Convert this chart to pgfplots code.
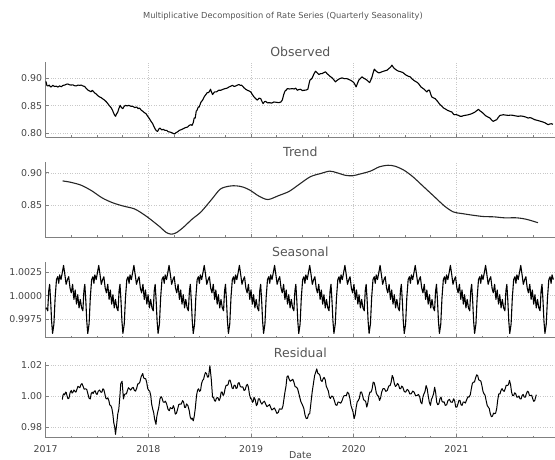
\documentclass[border=0pt]{standalone}
\usepackage{pgfplots}
\pgfplotsset{compat=1.18}
\usepackage{fontspec}
\setmainfont{DejaVu Sans}
\definecolor{spinec}{HTML}{808080}
\definecolor{gridc}{HTML}{C8C8C8}
\definecolor{tickc}{HTML}{444444}
\definecolor{titc}{HTML}{555555}
\pgfplotsset{
  every axis title shift=0pt,
  dec/.style={
    scale only axis, width=509.3pt, height=75.8pt, anchor=south west,
    xmin=2017, xmax=2021.96,
    axis x line=bottom, axis y line=left,
    axis line style={-, draw=spinec, line width=1.1pt},
    xtick={2017,2018,2019,2020,2021},
    minor xtick={2017.25,2017.5,2017.75,2018.25,2018.5,2018.75,2019.25,2019.5,2019.75,2020.25,2020.5,2020.75,2021.25,2021.5,2021.75},
    xticklabels={},
    tick align=inside,
    major tick length=3.5pt, minor tick length=2.2pt,
    tick style={draw=spinec, line width=0.6pt},
    grid=major,
    major grid style={dotted, draw=gridc, line width=0.5pt},
    scaled y ticks=false,
    tick label style={font=\fontsize{9.4}{11}\selectfont, text=tickc},
    xticklabel style={yshift=-4pt},
    title style={at={(0.5,1)}, anchor=base, yshift=5pt, font=\fontsize{12.5}{14}\selectfont, text=titc},
    every axis plot/.append style={line join=round},
  }
}
\begin{document}
\begin{tikzpicture}
\path[use as bounding box, clip] (0,0) rectangle (555pt,459pt);
\node[anchor=base, font=\fontsize{8.3}{10}\selectfont, text=titc] at (283pt,440pt) {Multiplicative Decomposition of Rate Series (Quarterly Seasonality)};

% Observed
\begin{axis}[dec, at={(45.7pt,321.5pt)}, ymin=0.7927, ymax=0.9291,
  ytick={0.80,0.85,0.90}, yticklabels={0.80,0.85,0.90}, title={Observed}]
\addplot[black, line width=1.1pt] coordinates {
(2017.000,0.894)(2017.006,0.891)(2017.012,0.886)(2017.023,0.8855)(2017.035,0.887)(2017.045,0.884)(2017.055,0.884)(2017.070,0.8865)(2017.085,0.8845)(2017.104,0.885)
(2017.120,0.8835)(2017.135,0.8855)(2017.152,0.884)(2017.168,0.8865)(2017.184,0.887)(2017.200,0.8885)(2017.217,0.889)(2017.232,0.8875)(2017.249,0.887)(2017.265,0.8875)
(2017.280,0.886)(2017.298,0.8855)(2017.315,0.887)(2017.330,0.8865)(2017.346,0.887)(2017.362,0.8855)(2017.379,0.8845)(2017.395,0.881)(2017.411,0.878)(2017.427,0.8765)
(2017.443,0.875)(2017.452,0.8775)(2017.460,0.8765)(2017.476,0.873)(2017.492,0.871)(2017.508,0.868)(2017.524,0.8657)(2017.540,0.8645)(2017.557,0.862)(2017.573,0.860)
(2017.590,0.857)(2017.605,0.8536)(2017.620,0.850)(2017.638,0.846)(2017.650,0.842)(2017.660,0.8374)(2017.670,0.8335)(2017.680,0.8308)(2017.690,0.835)(2017.702,0.8386)
(2017.712,0.8445)(2017.725,0.8506)(2017.738,0.8465)(2017.751,0.8446)(2017.763,0.8485)(2017.777,0.8506)(2017.793,0.8495)(2017.809,0.8506)(2017.828,0.849)(2017.848,0.8488)
(2017.868,0.8465)(2017.887,0.8476)(2017.900,0.8445)(2017.913,0.8458)(2017.930,0.842)(2017.945,0.840)(2017.960,0.8375)(2017.977,0.8356)(2017.993,0.831)(2018.010,0.8266)
(2018.025,0.822)(2018.042,0.8175)(2018.055,0.812)(2018.068,0.8073)(2018.080,0.8045)(2018.090,0.8037)(2018.100,0.8075)(2018.113,0.8097)(2018.130,0.8065)(2018.146,0.8073)
(2018.162,0.8055)(2018.178,0.8055)(2018.194,0.803)(2018.210,0.8025)(2018.226,0.8015)(2018.243,0.800)(2018.256,0.799)(2018.269,0.8013)(2018.285,0.803)(2018.301,0.8055)
(2018.320,0.8068)(2018.340,0.8085)(2018.360,0.8105)(2018.382,0.8115)(2018.398,0.8145)(2018.414,0.8157)(2018.425,0.8145)(2018.437,0.8193)(2018.446,0.8278)(2018.456,0.8278)
(2018.466,0.840)(2018.476,0.8425)(2018.485,0.8476)(2018.495,0.8476)(2018.511,0.856)(2018.528,0.860)(2018.544,0.866)(2018.560,0.870)(2018.573,0.8735)(2018.586,0.8735)
(2018.596,0.876)(2018.605,0.8795)(2018.615,0.8745)(2018.625,0.870)(2018.644,0.8747)(2018.663,0.8747)(2018.685,0.8777)(2018.706,0.8777)(2018.727,0.8795)(2018.748,0.8807)
(2018.767,0.8815)(2018.786,0.8837)(2018.802,0.8850)(2018.819,0.8867)(2018.835,0.8845)(2018.851,0.8855)(2018.867,0.8870)(2018.883,0.888)(2018.896,0.8865)(2018.909,0.8867)
(2018.920,0.8845)(2018.932,0.882)(2018.948,0.8795)(2018.964,0.8777)(2018.980,0.8765)(2018.997,0.8747)(2019.013,0.8700)(2019.029,0.8657)(2019.045,0.8625)(2019.061,0.860)
(2019.078,0.8635)(2019.094,0.8627)(2019.105,0.858)(2019.117,0.8536)(2019.130,0.8570)(2019.142,0.8578)(2019.160,0.855)(2019.181,0.8554)(2019.200,0.8545)(2019.223,0.8566)
(2019.248,0.8560)(2019.272,0.8554)(2019.290,0.8565)(2019.304,0.860)(2019.318,0.870)(2019.330,0.876)(2019.342,0.878)(2019.353,0.8807)(2019.375,0.8800)(2019.401,0.8807)
(2019.420,0.8800)(2019.435,0.8815)(2019.450,0.8777)(2019.466,0.8790)(2019.482,0.8795)(2019.500,0.8770)(2019.515,0.8777)(2019.535,0.8780)(2019.553,0.8795)(2019.563,0.8880)
(2019.573,0.8958)(2019.585,0.8975)(2019.596,0.900)(2019.612,0.907)(2019.628,0.912)(2019.644,0.909)(2019.660,0.906)(2019.676,0.9075)(2019.693,0.9078)(2019.709,0.9095)
(2019.725,0.9108)(2019.741,0.9075)(2019.757,0.9048)(2019.774,0.9020)(2019.790,0.900)(2019.806,0.8965)(2019.822,0.8928)(2019.838,0.8955)(2019.854,0.8976)(2019.870,0.8990)
(2019.887,0.900)(2019.908,0.8985)(2019.929,0.8988)(2019.948,0.8975)(2019.968,0.8958)(2019.984,0.8940)(2020.000,0.8916)(2020.012,0.8880)(2020.023,0.8837)(2020.036,0.8900)
(2020.049,0.8958)(2020.065,0.8990)(2020.081,0.9018)(2020.092,0.9000)(2020.104,0.8988)(2020.116,0.8975)(2020.129,0.8958)(2020.142,0.8935)(2020.155,0.8916)(2020.166,0.8960)
(2020.178,0.9018)(2020.190,0.9100)(2020.200,0.9157)(2020.213,0.9130)(2020.227,0.9108)(2020.243,0.9090)(2020.259,0.9096)(2020.275,0.9110)(2020.291,0.912)(2020.308,0.9130)
(2020.324,0.9138)(2020.337,0.9160)(2020.350,0.918)(2020.362,0.9200)(2020.372,0.9229)(2020.384,0.9195)(2020.395,0.9169)(2020.416,0.9140)(2020.437,0.912)(2020.458,0.9110)
(2020.479,0.9096)(2020.495,0.9070)(2020.511,0.9048)(2020.530,0.9030)(2020.550,0.9018)(2020.566,0.8985)(2020.583,0.8958)(2020.602,0.8935)(2020.621,0.8916)(2020.638,0.8880)
(2020.654,0.8837)(2020.670,0.8815)(2020.686,0.8795)(2020.699,0.8770)(2020.712,0.8747)(2020.725,0.8777)(2020.738,0.8777)(2020.749,0.8710)(2020.760,0.8657)(2020.776,0.8640)
(2020.793,0.8627)(2020.805,0.8600)(2020.816,0.8578)(2020.829,0.8545)(2020.841,0.8518)(2020.858,0.8490)(2020.874,0.8458)(2020.893,0.8440)(2020.913,0.8416)(2020.934,0.8400)
(2020.955,0.8386)(2020.966,0.8360)(2020.977,0.8337)(2020.998,0.8340)(2021.019,0.8325)(2021.035,0.8310)(2021.052,0.8308)(2021.068,0.8320)(2021.084,0.8325)(2021.100,0.8330)
(2021.117,0.8337)(2021.133,0.8345)(2021.149,0.8356)(2021.165,0.8370)(2021.181,0.8386)(2021.198,0.8410)(2021.214,0.8434)(2021.230,0.8405)(2021.246,0.8386)(2021.267,0.8350)
(2021.288,0.8314)(2021.308,0.8295)(2021.327,0.8277)(2021.343,0.8240)(2021.359,0.8217)(2021.375,0.8235)(2021.392,0.8247)(2021.408,0.8290)(2021.424,0.8325)(2021.440,0.8330)
(2021.456,0.8337)(2021.480,0.8330)(2021.505,0.8325)(2021.530,0.8330)(2021.553,0.8325)(2021.578,0.8315)(2021.602,0.8308)(2021.626,0.8315)(2021.650,0.8308)(2021.675,0.8295)
(2021.699,0.8277)(2021.715,0.8285)(2021.731,0.8277)(2021.748,0.8260)(2021.764,0.8247)(2021.788,0.8235)(2021.812,0.8223)(2021.836,0.8210)(2021.861,0.8193)(2021.877,0.8175)
(2021.893,0.8157)(2021.909,0.8170)(2021.925,0.8175)(2021.940,0.8165)
};
\end{axis}

% Trend
\begin{axis}[dec, at={(45.7pt,221.4pt)}, ymin=0.8007, ymax=0.9168,
  ytick={0.85,0.90}, yticklabels={0.85,0.90}, title={Trend}]
\addplot[black!85, line width=1.1pt, smooth] coordinates {
(2017.165,0.8875)(2017.241,0.8855)(2017.344,0.881)(2017.447,0.8725)(2017.550,0.8615)(2017.653,0.854)(2017.756,0.849)(2017.859,0.845)(2017.928,0.839)(2017.997,0.8315)
(2018.066,0.823)(2018.117,0.8165)(2018.170,0.809)(2018.220,0.806)(2018.270,0.808)(2018.341,0.8165)(2018.426,0.829)(2018.512,0.840)(2018.615,0.859)(2018.701,0.875)
(2018.787,0.8795)(2018.856,0.880)(2018.924,0.878)(2018.993,0.873)(2019.079,0.864)(2019.165,0.859)(2019.268,0.865)(2019.371,0.8715)(2019.475,0.883)(2019.578,0.894)
(2019.681,0.899)(2019.767,0.9025)(2019.836,0.900)(2019.922,0.896)(2019.990,0.8955)(2020.059,0.898)(2020.162,0.9025)(2020.248,0.909)(2020.334,0.9115)(2020.403,0.910)
(2020.488,0.904)(2020.575,0.894)(2020.678,0.879)(2020.781,0.864)(2020.884,0.849)(2020.970,0.840)(2021.056,0.8375)(2021.159,0.835)(2021.262,0.833)(2021.365,0.8325)
(2021.468,0.831)(2021.588,0.831)(2021.674,0.829)(2021.743,0.826)(2021.794,0.8235)
};
\end{axis}

% Seasonal
\begin{axis}[dec, at={(45.7pt,121.3pt)}, ymin=0.99555, ymax=1.00357,
  ytick={0.9975,1.0,1.0025}, yticklabels={0.9975,1.0000,1.0025}, title={Seasonal}]
\addplot[black, line width=1.1pt] coordinates {
(2017.000,0.9986)(2017.0075,0.9987)(2017.0195,0.9984)(2017.0295,1.0005)(2017.0385,1.0012)(2017.0485,0.9994)(2017.0575,0.9973)
(2017.067,0.9960)(2017.080,0.9970)(2017.092,0.9998)(2017.105,1.0017)(2017.117,1.0020)(2017.127,1.0013)(2017.136,1.0022)(2017.149,1.0017)(2017.161,1.0024)(2017.174,1.0032)(2017.187,1.0022)(2017.199,1.0012)(2017.212,1.0017)(2017.224,1.0020)(2017.237,1.0008)(2017.249,1.0003)(2017.262,1.0012)(2017.275,0.9996)(2017.287,1.0006)(2017.300,0.9991)(2017.312,1.0001)(2017.325,0.9987)(2017.337,0.9996)(2017.350,0.9987)(2017.362,0.9984)(2017.372,1.0005)(2017.381,1.0012)(2017.391,0.9994)(2017.400,0.9973)
(2017.4095,0.9960)(2017.4225,0.9970)(2017.4345,0.9998)(2017.4475,1.0017)(2017.4595,1.0020)(2017.4695,1.0013)(2017.4785,1.0022)(2017.4915,1.0017)(2017.5035,1.0024)(2017.5165,1.0032)(2017.5295,1.0022)(2017.5415,1.0012)(2017.5545,1.0017)(2017.5665,1.0020)(2017.5795,1.0008)(2017.5915,1.0003)(2017.6045,1.0012)(2017.6175,0.9996)(2017.6295,1.0006)(2017.6425,0.9991)(2017.6545,1.0001)(2017.6675,0.9987)(2017.6795,0.9996)(2017.6925,0.9987)(2017.7045,0.9984)(2017.7145,1.0005)(2017.7235,1.0012)(2017.7335,0.9994)(2017.7425,0.9973)
(2017.7520,0.9960)(2017.7650,0.9970)(2017.7770,0.9998)(2017.7900,1.0017)(2017.8020,1.0020)(2017.8120,1.0013)(2017.8210,1.0022)(2017.8340,1.0017)(2017.8460,1.0024)(2017.8590,1.0032)(2017.8720,1.0022)(2017.8840,1.0012)(2017.8970,1.0017)(2017.9090,1.0020)(2017.9220,1.0008)(2017.9340,1.0003)(2017.9470,1.0012)(2017.9600,0.9996)(2017.9720,1.0006)(2017.9850,0.9991)(2017.9970,1.0001)(2018.0100,0.9987)(2018.0220,0.9996)(2018.0350,0.9987)(2018.0470,0.9984)(2018.0570,1.0005)(2018.0660,1.0012)(2018.0760,0.9994)(2018.0850,0.9973)
(2018.0945,0.9960)(2018.1075,0.9970)(2018.1195,0.9998)(2018.1325,1.0017)(2018.1445,1.0020)(2018.1545,1.0013)(2018.1635,1.0022)(2018.1765,1.0017)(2018.1885,1.0024)(2018.2015,1.0032)(2018.2145,1.0022)(2018.2265,1.0012)(2018.2395,1.0017)(2018.2515,1.0020)(2018.2645,1.0008)(2018.2765,1.0003)(2018.2895,1.0012)(2018.3025,0.9996)(2018.3145,1.0006)(2018.3275,0.9991)(2018.3395,1.0001)(2018.3525,0.9987)(2018.3645,0.9996)(2018.3775,0.9987)(2018.3895,0.9984)(2018.3995,1.0005)(2018.4085,1.0012)(2018.4185,0.9994)(2018.4275,0.9973)
(2018.4370,0.9960)(2018.4500,0.9970)(2018.4620,0.9998)(2018.4750,1.0017)(2018.4870,1.0020)(2018.4970,1.0013)(2018.5060,1.0022)(2018.5190,1.0017)(2018.5310,1.0024)(2018.5440,1.0032)(2018.5570,1.0022)(2018.5690,1.0012)(2018.5820,1.0017)(2018.5940,1.0020)(2018.6070,1.0008)(2018.6190,1.0003)(2018.6320,1.0012)(2018.6450,0.9996)(2018.6570,1.0006)(2018.6700,0.9991)(2018.6820,1.0001)(2018.6950,0.9987)(2018.7070,0.9996)(2018.7200,0.9987)(2018.7320,0.9984)(2018.7420,1.0005)(2018.7510,1.0012)(2018.7610,0.9994)(2018.7700,0.9973)
(2018.7795,0.9960)(2018.7925,0.9970)(2018.8045,0.9998)(2018.8175,1.0017)(2018.8295,1.0020)(2018.8395,1.0013)(2018.8485,1.0022)(2018.8615,1.0017)(2018.8735,1.0024)(2018.8865,1.0032)(2018.8995,1.0022)(2018.9115,1.0012)(2018.9245,1.0017)(2018.9365,1.0020)(2018.9495,1.0008)(2018.9615,1.0003)(2018.9745,1.0012)(2018.9875,0.9996)(2018.9995,1.0006)(2019.0125,0.9991)(2019.0245,1.0001)(2019.0375,0.9987)(2019.0495,0.9996)(2019.0625,0.9987)(2019.0745,0.9984)(2019.0845,1.0005)(2019.0935,1.0012)(2019.1035,0.9994)(2019.1125,0.9973)
(2019.1220,0.9960)(2019.1350,0.9970)(2019.1470,0.9998)(2019.1600,1.0017)(2019.1720,1.0020)(2019.1820,1.0013)(2019.1910,1.0022)(2019.2040,1.0017)(2019.2160,1.0024)(2019.2290,1.0032)(2019.2420,1.0022)(2019.2540,1.0012)(2019.2670,1.0017)(2019.2790,1.0020)(2019.2920,1.0008)(2019.3040,1.0003)(2019.3170,1.0012)(2019.3300,0.9996)(2019.3420,1.0006)(2019.3550,0.9991)(2019.3670,1.0001)(2019.3800,0.9987)(2019.3920,0.9996)(2019.4050,0.9987)(2019.4170,0.9984)(2019.4270,1.0005)(2019.4360,1.0012)(2019.4460,0.9994)(2019.4550,0.9973)
(2019.4645,0.9960)(2019.4775,0.9970)(2019.4895,0.9998)(2019.5025,1.0017)(2019.5145,1.0020)(2019.5245,1.0013)(2019.5335,1.0022)(2019.5465,1.0017)(2019.5585,1.0024)(2019.5715,1.0032)(2019.5845,1.0022)(2019.5965,1.0012)(2019.6095,1.0017)(2019.6215,1.0020)(2019.6345,1.0008)(2019.6465,1.0003)(2019.6595,1.0012)(2019.6725,0.9996)(2019.6845,1.0006)(2019.6975,0.9991)(2019.7095,1.0001)(2019.7225,0.9987)(2019.7345,0.9996)(2019.7475,0.9987)(2019.7595,0.9984)(2019.7695,1.0005)(2019.7785,1.0012)(2019.7885,0.9994)(2019.7975,0.9973)
(2019.8070,0.9960)(2019.8200,0.9970)(2019.8320,0.9998)(2019.8450,1.0017)(2019.8570,1.0020)(2019.8670,1.0013)(2019.8760,1.0022)(2019.8890,1.0017)(2019.9010,1.0024)(2019.9140,1.0032)(2019.9270,1.0022)(2019.9390,1.0012)(2019.9520,1.0017)(2019.9640,1.0020)(2019.9770,1.0008)(2019.9890,1.0003)(2020.0020,1.0012)(2020.0150,0.9996)(2020.0270,1.0006)(2020.0400,0.9991)(2020.0520,1.0001)(2020.0650,0.9987)(2020.0770,0.9996)(2020.0900,0.9987)(2020.1020,0.9984)(2020.1120,1.0005)(2020.1210,1.0012)(2020.1310,0.9994)(2020.1400,0.9973)
(2020.1495,0.9960)(2020.1625,0.9970)(2020.1745,0.9998)(2020.1875,1.0017)(2020.1995,1.0020)(2020.2095,1.0013)(2020.2185,1.0022)(2020.2315,1.0017)(2020.2435,1.0024)(2020.2565,1.0032)(2020.2695,1.0022)(2020.2815,1.0012)(2020.2945,1.0017)(2020.3065,1.0020)(2020.3195,1.0008)(2020.3315,1.0003)(2020.3445,1.0012)(2020.3575,0.9996)(2020.3695,1.0006)(2020.3825,0.9991)(2020.3945,1.0001)(2020.4075,0.9987)(2020.4195,0.9996)(2020.4325,0.9987)(2020.4445,0.9984)(2020.4545,1.0005)(2020.4635,1.0012)(2020.4735,0.9994)(2020.4825,0.9973)
(2020.4920,0.9960)(2020.5050,0.9970)(2020.5170,0.9998)(2020.5300,1.0017)(2020.5420,1.0020)(2020.5520,1.0013)(2020.5610,1.0022)(2020.5740,1.0017)(2020.5860,1.0024)(2020.5990,1.0032)(2020.6120,1.0022)(2020.6240,1.0012)(2020.6370,1.0017)(2020.6490,1.0020)(2020.6620,1.0008)(2020.6740,1.0003)(2020.6870,1.0012)(2020.7000,0.9996)(2020.7120,1.0006)(2020.7250,0.9991)(2020.7370,1.0001)(2020.7500,0.9987)(2020.7620,0.9996)(2020.7750,0.9987)(2020.7870,0.9984)(2020.7970,1.0005)(2020.8060,1.0012)(2020.8160,0.9994)(2020.8250,0.9973)
(2020.8345,0.9960)(2020.8475,0.9970)(2020.8595,0.9998)(2020.8725,1.0017)(2020.8845,1.0020)(2020.8945,1.0013)(2020.9035,1.0022)(2020.9165,1.0017)(2020.9285,1.0024)(2020.9415,1.0032)(2020.9545,1.0022)(2020.9665,1.0012)(2020.9795,1.0017)(2020.9915,1.0020)(2021.0045,1.0008)(2021.0165,1.0003)(2021.0295,1.0012)(2021.0425,0.9996)(2021.0545,1.0006)(2021.0675,0.9991)(2021.0795,1.0001)(2021.0925,0.9987)(2021.1045,0.9996)(2021.1175,0.9987)(2021.1295,0.9984)(2021.1395,1.0005)(2021.1485,1.0012)(2021.1585,0.9994)(2021.1675,0.9973)
(2021.1770,0.9960)(2021.1900,0.9970)(2021.2020,0.9998)(2021.2150,1.0017)(2021.2270,1.0020)(2021.2370,1.0013)(2021.2460,1.0022)(2021.2590,1.0017)(2021.2710,1.0024)(2021.2840,1.0032)(2021.2970,1.0022)(2021.3090,1.0012)(2021.3220,1.0017)(2021.3340,1.0020)(2021.3470,1.0008)(2021.3590,1.0003)(2021.3720,1.0012)(2021.3850,0.9996)(2021.3970,1.0006)(2021.4100,0.9991)(2021.4220,1.0001)(2021.4350,0.9987)(2021.4470,0.9996)(2021.4600,0.9987)(2021.4720,0.9984)(2021.4820,1.0005)(2021.4910,1.0012)(2021.5010,0.9994)(2021.5100,0.9973)
(2021.5195,0.9960)(2021.5325,0.9970)(2021.5445,0.9998)(2021.5575,1.0017)(2021.5695,1.0020)(2021.5795,1.0013)(2021.5885,1.0022)(2021.6015,1.0017)(2021.6135,1.0024)(2021.6265,1.0032)(2021.6395,1.0022)(2021.6515,1.0012)(2021.6645,1.0017)(2021.6765,1.0020)(2021.6895,1.0008)(2021.7015,1.0003)(2021.7145,1.0012)(2021.7275,0.9996)(2021.7395,1.0006)(2021.7525,0.9991)(2021.7645,1.0001)(2021.7775,0.9987)(2021.7895,0.9996)(2021.8025,0.9987)(2021.8145,0.9984)(2021.8245,1.0005)(2021.8335,1.0012)(2021.8435,0.9994)(2021.8525,0.9973)
(2021.8620,0.9960)(2021.8750,0.9970)(2021.8870,0.9998)(2021.9000,1.0017)(2021.9120,1.0020)(2021.9220,1.0013)(2021.9310,1.0022)(2021.9440,1.0017)
};
\end{axis}

% Residual
\begin{axis}[dec, at={(45.7pt,21.2pt)}, ymin=0.9729, ymax=1.0222,
  ytick={0.98,1.00,1.02}, yticklabels={0.98,1.00,1.02}, title={Residual},
  xticklabels={2017,2018,2019,2020,2021}]
\addplot[black, line width=1.0pt] coordinates {
(2017.162,0.9978)(2017.168,1.0005)(2017.175,1.0015)(2017.184,1.0008)(2017.194,1.0026)(2017.200,1.0024)(2017.207,1.0004)(2017.217,0.9983)(2017.227,0.9987)(2017.238,1.0024)
(2017.249,1.0037)(2017.257,1.0020)(2017.265,1.0026)(2017.275,1.0040)(2017.285,1.0031)(2017.294,1.0026)(2017.304,1.0044)(2017.314,1.0064)(2017.324,1.0059)(2017.333,1.0055)
(2017.343,1.0075)(2017.353,1.0082)(2017.363,1.0066)(2017.375,1.0045)(2017.388,1.0048)(2017.400,1.0043)(2017.411,1.0015)(2017.422,0.9987)(2017.434,0.9982)(2017.443,1.0016)
(2017.453,1.0026)(2017.462,1.0017)(2017.472,1.0031)(2017.482,1.0035)(2017.492,1.0015)(2017.501,1.0011)(2017.511,1.0031)(2017.524,1.0040)(2017.537,1.0026)(2017.547,1.0025)
(2017.557,1.0048)(2017.566,1.0043)(2017.576,1.0015)(2017.585,0.9987)(2017.595,0.9982)(2017.605,0.9989)(2017.615,0.9971)(2017.624,0.9943)(2017.634,0.9938)(2017.644,0.9922)
(2017.654,0.9883)(2017.663,0.9827)(2017.673,0.9795)(2017.680,0.9751)(2017.693,0.9828)(2017.702,0.9884)(2017.712,0.9916)(2017.721,0.9987)(2017.731,1.0081)(2017.744,1.0097)
(2017.757,0.9982)(2017.767,1.0010)(2017.777,1.0015)(2017.786,1.0014)(2017.796,1.0037)(2017.806,1.0055)(2017.816,1.0048)(2017.828,1.0039)(2017.841,1.0053)(2017.852,1.0057)
(2017.864,1.0037)(2017.875,1.0033)(2017.887,1.0053)(2017.896,1.0079)(2017.906,1.0081)(2017.917,1.0091)(2017.929,1.0125)(2017.945,1.0147)(2017.954,1.0119)(2017.964,1.0114)
(2017.974,1.0113)(2017.984,1.0088)(2017.993,1.0051)(2018.003,1.0037)(2018.013,1.0032)(2018.023,1.0004)(2018.032,0.9948)(2018.042,0.9916)(2018.051,0.9895)(2018.061,0.9850)
(2018.074,0.9817)(2018.082,0.9867)(2018.090,0.9894)(2018.101,0.9926)(2018.113,0.9982)(2018.123,0.9997)(2018.133,0.9987)(2018.144,0.9962)(2018.155,0.9960)(2018.166,0.9967)
(2018.178,0.9949)(2018.191,0.9915)(2018.204,0.9905)(2018.213,0.9925)(2018.223,0.9921)(2018.233,0.9918)(2018.243,0.9938)(2018.252,0.9922)(2018.262,0.9883)(2018.273,0.9888)
(2018.285,0.9916)(2018.296,0.9945)(2018.307,0.9949)(2018.320,0.9948)(2018.333,0.9971)(2018.343,0.9961)(2018.353,0.9927)(2018.362,0.9926)(2018.372,0.9949)(2018.385,0.9939)
(2018.398,0.9905)(2018.407,0.9866)(2018.417,0.9850)(2018.427,0.9857)(2018.437,0.9839)(2018.446,0.9866)(2018.456,0.9916)(2018.469,1.0004)(2018.479,1.0038)(2018.489,1.0048)
(2018.498,1.0031)(2018.508,1.0037)(2018.518,1.0082)(2018.528,1.0103)(2018.537,1.0108)(2018.547,1.0136)(2018.556,1.0154)(2018.566,1.0147)(2018.576,1.0124)(2018.586,1.0125)
(2018.599,1.0198)(2018.612,1.0114)(2018.625,0.9993)(2018.634,0.9994)(2018.644,0.9971)(2018.653,0.9967)(2018.663,0.9987)(2018.676,0.9991)(2018.689,0.9971)(2018.699,0.9987)
(2018.709,1.0026)(2018.718,1.0027)(2018.728,1.0004)(2018.737,1.0014)(2018.747,1.0048)(2018.757,1.0071)(2018.767,1.0070)(2018.776,1.0075)(2018.786,1.0103)(2018.796,1.0104)
(2018.806,1.0081)(2018.815,1.0053)(2018.825,1.0048)(2018.835,1.0071)(2018.845,1.0070)(2018.854,1.0050)(2018.864,1.0053)(2018.873,1.0083)(2018.883,1.0088)(2018.896,1.0062)
(2018.909,1.0059)(2018.920,1.0060)(2018.932,1.0037)(2018.943,1.0042)(2018.955,1.0070)(2018.964,1.0077)(2018.974,1.0059)(2018.985,1.0009)(2018.997,0.9982)(2019.005,0.9983)
(2019.013,0.9960)(2019.021,0.9965)(2019.029,0.9993)(2019.040,0.9978)(2019.052,0.9938)(2019.061,0.9948)(2019.071,0.9982)(2019.082,0.9983)(2019.094,0.9960)(2019.105,0.9948)
(2019.117,0.9960)(2019.130,0.9967)(2019.142,0.9949)(2019.155,0.9932)(2019.168,0.9938)(2019.180,0.9945)(2019.191,0.9927)(2019.202,0.9910)(2019.214,0.9916)(2019.227,0.9923)
(2019.240,0.9905)(2019.252,0.9888)(2019.265,0.9894)(2019.276,0.9917)(2019.288,0.9916)(2019.300,0.9915)(2019.311,0.9938)(2019.330,1.0026)(2019.340,1.0064)(2019.350,1.0125)
(2019.360,1.0132)(2019.369,1.0114)(2019.382,1.0097)(2019.395,1.0103)(2019.406,1.0110)(2019.417,1.0092)(2019.428,1.0063)(2019.440,1.0059)(2019.453,1.0049)(2019.466,1.0015)
(2019.484,0.9966)(2019.502,0.9940)(2019.514,0.9920)(2019.526,0.9875)(2019.538,0.9854)(2019.550,0.9857)(2019.560,0.9883)(2019.571,0.9885)(2019.595,1.0026)(2019.619,1.0134)
(2019.640,1.0177)(2019.650,1.0149)(2019.660,1.0145)(2019.670,1.0136)(2019.681,1.0102)(2019.691,1.0095)(2019.701,1.0112)(2019.711,1.0122)(2019.722,1.0108)(2019.732,1.0066)
(2019.743,1.0048)(2019.753,1.0033)(2019.763,0.9994)(2019.773,0.9985)(2019.784,1.0000)(2019.797,0.9998)(2019.811,0.9972)(2019.823,0.9944)(2019.836,0.9940)(2019.847,0.9962)
(2019.859,0.9960)(2019.873,0.9954)(2019.887,0.9972)(2019.901,1.0000)(2019.915,1.0004)(2019.927,1.0003)(2019.939,1.0026)(2019.951,1.0017)(2019.963,0.9983)(2019.973,0.9939)
(2019.983,0.9918)(2019.993,0.9897)(2020.004,0.9853)(2020.014,0.9879)(2020.024,0.9929)(2020.034,0.9963)(2020.045,0.9972)(2020.055,0.9987)(2020.066,1.0026)(2020.076,1.0027)
(2020.086,1.0004)(2020.096,0.9976)(2020.107,0.9972)(2020.117,0.9963)(2020.127,0.9929)(2020.137,0.9955)(2020.148,1.0004)(2020.158,1.0027)(2020.169,1.0026)(2020.179,1.0047)
(2020.189,1.0091)(2020.199,1.0087)(2020.210,1.0058)(2020.220,1.0019)(2020.231,1.0004)(2020.241,1.0000)(2020.251,0.9972)(2020.261,0.9987)(2020.272,1.0026)(2020.285,1.0049)
(2020.299,1.0048)(2020.313,1.0031)(2020.327,1.0037)(2020.340,1.0065)(2020.354,1.0069)(2020.364,1.0090)(2020.375,1.0134)(2020.385,1.0119)(2020.396,1.0080)(2020.406,1.0063)
(2020.416,1.0069)(2020.426,1.0083)(2020.437,1.0073)(2020.447,1.0049)(2020.457,1.0048)(2020.467,1.0065)(2020.478,1.0058)(2020.492,1.0030)(2020.506,1.0026)(2020.520,1.0044)
(2020.533,1.0037)(2020.546,1.0014)(2020.560,1.0015)(2020.574,1.0033)(2020.588,1.0026)(2020.602,1.0003)(2020.616,1.0004)(2020.630,1.0011)(2020.643,0.9994)(2020.653,0.9960)
(2020.664,0.9950)(2020.674,0.9995)(2020.684,1.0015)(2020.694,1.0030)(2020.705,1.0069)(2020.715,1.0049)(2020.725,1.0004)(2020.736,0.9960)(2020.747,0.9940)(2020.757,0.9979)
(2020.767,0.9994)(2020.777,1.0014)(2020.788,1.0058)(2020.798,1.0022)(2020.808,0.9961)(2020.818,0.9944)(2020.829,0.9950)(2020.840,0.9984)(2020.850,0.9994)(2020.860,0.9966)
(2020.870,0.9961)(2020.880,0.9963)(2020.891,0.9940)(2020.905,0.9944)(2020.918,0.9972)(2020.932,0.9979)(2020.946,0.9961)(2020.960,0.9960)(2020.973,0.9983)(2020.983,0.9968)
(2020.993,0.9929)(2021.004,0.9928)(2021.015,0.9950)(2021.025,0.9973)(2021.035,0.9972)(2021.045,0.9944)(2021.055,0.9940)(2021.066,0.9962)(2021.076,0.9961)(2021.087,0.9955)
(2021.097,0.9972)(2021.111,0.9995)(2021.124,0.9994)(2021.135,1.0009)(2021.145,1.0048)(2021.155,1.0082)(2021.165,1.0091)(2021.176,1.0092)(2021.186,1.0117)(2021.197,1.0138)
(2021.207,1.0134)(2021.217,1.0106)(2021.227,1.0102)(2021.238,1.0098)(2021.248,1.0069)(2021.259,1.0030)(2021.269,1.0015)(2021.279,1.0006)(2021.289,0.9972)(2021.300,0.9939)
(2021.310,0.9929)(2021.320,0.9919)(2021.330,0.9885)(2021.341,0.9866)(2021.351,0.9870)(2021.362,0.9890)(2021.372,0.9885)(2021.382,0.9890)(2021.392,0.9918)(2021.403,0.9979)
(2021.413,1.0015)(2021.424,1.0014)(2021.434,1.0037)(2021.444,1.0049)(2021.454,1.0037)(2021.465,1.0031)(2021.475,1.0048)(2021.485,1.0071)(2021.495,1.0069)(2021.506,1.0074)
(2021.517,1.0102)(2021.527,1.0076)(2021.537,1.0026)(2021.547,1.0003)(2021.557,1.0004)(2021.568,1.0022)(2021.578,1.0015)(2021.588,0.9993)(2021.598,0.9994)(2021.609,1.0001)
(2021.619,0.9983)(2021.630,0.9982)(2021.640,1.0004)(2021.650,1.0011)(2021.660,0.9994)(2021.671,0.9993)(2021.681,1.0015)(2021.692,1.0032)(2021.702,1.0026)(2021.712,1.0003)
(2021.722,1.0004)(2021.733,1.0006)(2021.743,0.9983)(2021.753,0.9966)(2021.763,0.9972)(2021.778,1.0009)
};
\end{axis}
\node[anchor=base, font=\fontsize{9.4}{11}\selectfont, text=tickc] at (300.4pt,1pt) {Date};
\end{tikzpicture}
\end{document}
